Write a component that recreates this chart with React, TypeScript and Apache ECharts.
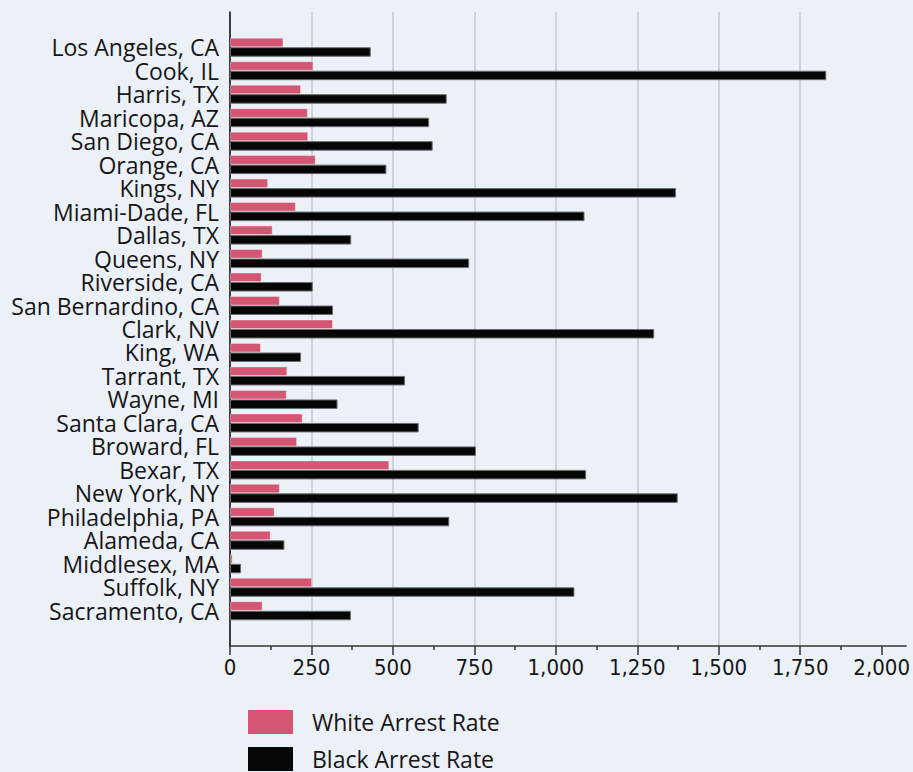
import React, { useEffect, useRef } from "react";
import * as echarts from "echarts";

const categories = [
  "Los Angeles, CA", "Cook, IL", "Harris, TX", "Maricopa, AZ", "San Diego, CA",
  "Orange, CA", "Kings, NY", "Miami-Dade, FL", "Dallas, TX", "Queens, NY",
  "Riverside, CA", "San Bernardino, CA", "Clark, NV", "King, WA", "Tarrant, TX",
  "Wayne, MI", "Santa Clara, CA", "Broward, FL", "Bexar, TX", "New York, NY",
  "Philadelphia, PA", "Alameda, CA", "Middlesex, MA", "Suffolk, NY", "Sacramento, CA",
];

const whiteRates = [
  164, 256, 218, 239, 240, 263, 117, 202, 131, 100,
  97, 153, 316, 95, 176, 174, 223, 206, 489, 153,
  137, 125, 8, 252, 100,
];

const blackRates = [
  432, 1830, 665, 611, 622, 480, 1369, 1088, 372, 734,
  254, 316, 1302, 218, 537, 330, 579, 755, 1093, 1374,
  673, 167, 34, 1057, 371,
];

const xTicks = [0, 250, 500, 750, 1000, 1250, 1500, 1750, 2000];

const seriesNames = ["White Arrest Rate", "Black Arrest Rate"];

export default function App() {
  const ref = useRef<HTMLDivElement>(null);

  useEffect(() => {
    if (!ref.current) return;
    const chart = echarts.init(ref.current, null, { renderer: "svg" });
    const cats = ["", ...categories, ""];
    const pad = (arr: number[]) => [null, ...arr, null];
    const textColor = "#161616";
    const labelFont = "'Open Sans', sans-serif";
    chart.setOption({
      animation: false,
      backgroundColor: "#ecf0f7",
      grid: { left: 230, right: 6, top: 12, bottom: 126, containLabel: false },
      xAxis: {
        type: "value",
        min: 0,
        max: 2075,
        interval: 250,
        axisLine: { show: true, lineStyle: { color: "#333", width: 1.5 } },
        axisTick: {
          show: true,
          length: 9,
          customValues: xTicks,
          lineStyle: { color: "#333", width: 1.5 },
        },
        minorTick: { show: true, splitNumber: 2, length: 4, lineStyle: { color: "#333", width: 1.5 } },
        axisLabel: {
          customValues: xTicks,
          fontFamily: "'Liberation Sans Narrow', 'DejaVu Sans Condensed', 'Roboto', sans-serif",
          fontSize: 22,
          color: textColor,
          margin: 10,
          formatter: (v: number) => (v % 250 === 0 ? v.toLocaleString("en-US") : ""),
        },
        splitLine: {
          show: true,
          showMinLine: false,
          showMaxLine: false,
          lineStyle: { color: "#c6c9ce", width: 1.5 },
        },
      },
      yAxis: {
        type: "category",
        inverse: true,
        data: cats,
        axisLine: { show: true, lineStyle: { color: "#000", width: 1.5 } },
        axisTick: { show: false },
        axisLabel: {
          fontFamily: labelFont,
          fontSize: 23,
          lineHeight: 22,
          color: textColor,
          margin: 11,
          interval: 0,
        },
        splitLine: { show: false },
      },
      legend: {
        orient: "vertical",
        left: 248,
        top: 710,
        itemWidth: 45,
        itemHeight: 24,
        itemGap: 13,
        icon: "rect",
        padding: 0,
        textStyle: {
          fontFamily: labelFont,
          fontSize: 23,
          lineHeight: 22,
          color: textColor,
          padding: [0, 0, 0, 14],
        },
        itemStyle: { borderWidth: 0 },
        data: seriesNames,
      },
      series: [
        {
          name: seriesNames[0],
          type: "bar",
          data: pad(whiteRates),
          barGap: "0%",
          barCategoryGap: "19%",
          itemStyle: { color: "#d45672", borderColor: "rgba(255,255,255,0.35)", borderWidth: 1 },
        },
        {
          name: seriesNames[1],
          type: "bar",
          data: pad(blackRates),
          barGap: "0%",
          barCategoryGap: "19%",
          itemStyle: { color: "#040706", borderColor: "#6a6d70", borderWidth: 1 },
        },
      ],
    });
    return () => chart.dispose();
  }, []);

  return (
    <div
      ref={ref}
      style={{ position: "fixed", left: 0, top: 0, width: 913, height: 772 }}
    />
  );
}
